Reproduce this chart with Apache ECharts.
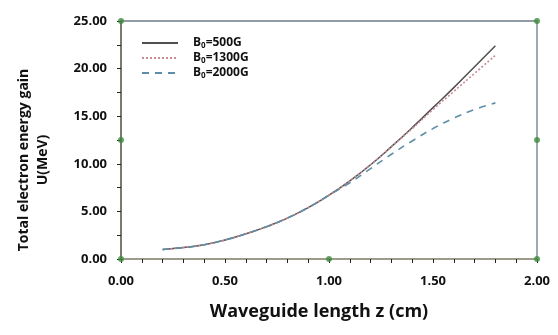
<!DOCTYPE html>
<html><head><meta charset="utf-8">
<script src="https://cdn.jsdelivr.net/npm/echarts@6/dist/echarts.min.js"></script>
<style>html,body{margin:0;padding:0;background:#fff}#c{width:558px;height:335px}</style>
</head><body><div id="c"></div>
<script>
const zValues = [0.2,0.3,0.4,0.5,0.6,0.7,0.8,0.9,1.0,1.1,1.2,1.3,1.4,1.5,1.6,1.7,1.8];
const u500  = [1.0,1.2,1.5,2.0,2.65,3.4,4.3,5.4,6.7,8.2,9.9,11.8,13.8,15.9,18.0,20.2,22.4];
const u1300 = [1.0,1.2,1.5,2.0,2.65,3.4,4.3,5.4,6.7,8.2,9.9,11.8,13.7,15.7,17.6,19.5,21.4];
const u2000 = [1.0,1.2,1.5,2.0,2.65,3.4,4.3,5.4,6.7,8.0,9.5,11.0,12.4,13.7,14.8,15.7,16.4];
const seriesNames = ['B{s|0}=500G','B{s|0}=1300G','B{s|0}=2000G'];
const handles = [[0,0],[1,0],[2,0],[0,25],[2,25],[0,12.5],[2,12.5]];

const pair = (xs, ys) => xs.map((x,i)=>[x, ys[i]]);
const chart = echarts.init(document.getElementById('c'));
const fontF = '"Open Sans", "Liberation Sans", sans-serif';
chart.setOption({
  animation: false,
  grid: {left:121, right:21, top:21, bottom:76, show:true, borderColor:'#6f7c86', borderWidth:1.3, backgroundColor:'transparent'},
  legend: {
    left: 136, top: 32, orient: 'vertical', itemWidth: 36, itemHeight: 12, itemGap: 2,
    data: ['s500','s1300','s2000'],
    itemStyle: {opacity: 0},
    formatter: n => ({s500:seriesNames[0], s1300:seriesNames[1], s2000:seriesNames[2]})[n],
    textStyle: {fontFamily: fontF, fontWeight:'bold', fontSize:12, color:'#111', padding:[0,0,0,10],
      rich: {s:{fontFamily: fontF, fontWeight:'bold', fontSize:8, verticalAlign:'bottom', padding:[6,0,0,0], color:'#111'}}}
  },
  xAxis: [{
    type:'value', min:0, max:2, interval:0.5,
    name:'Waveguide length z (cm)', nameLocation:'middle', nameGap:44,
    nameTextStyle:{fontFamily: fontF, fontWeight:'bold', fontSize:18, color:'#111', padding:[0,20,0,0]},
    axisLine:{show:true, onZero:false, lineStyle:{color:'#a39d82', width:1.5}},
    axisTick:{show:true, inside:false, length:4, lineStyle:{color:'#222'}},
    minorTick:{show:true, splitNumber:5, length:4, lineStyle:{color:'#222'}},
    splitLine:{show:false},
    axisLabel:{formatter:v=>v.toFixed(2), margin:16, fontFamily: fontF, fontWeight:'bold', fontSize:13, color:'#111'}
  }],
  yAxis: [{
    type:'value', min:0, max:25, interval:5,
    name:'Total electron energy gain\nU(MeV)', nameLocation:'middle', nameGap:68, nameRotate:90,
    nameTextStyle:{fontFamily: fontF, fontWeight:'bold', fontSize:14, color:'#111', lineHeight:19, padding:[0,0,0,-40]},
    axisLine:{show:true, onZero:false, lineStyle:{color:'#6e6a55', width:1.5}},
    axisTick:{show:true, length:4, lineStyle:{color:'#222'}},
    minorTick:{show:true, splitNumber:2, length:4, lineStyle:{color:'#222'}},
    splitLine:{show:false},
    axisLabel:{formatter:v=>v.toFixed(2), margin:14, fontFamily: fontF, fontWeight:'bold', fontSize:13, color:'#111'}
  }],
  series: [
    {name:'s500', type:'line', symbol:'none', smooth:true, data:pair(zValues,u500),
     lineStyle:{color:'#505050', width:1.5, type:'solid'}, itemStyle:{color:'#505050'}},
    {name:'s1300', type:'line', symbol:'none', smooth:true, data:pair(zValues,u1300),
     lineStyle:{color:'#c98a92', width:1.6, type:[2,2]}, itemStyle:{color:'#c98a92'}},
    {name:'s2000', type:'line', symbol:'none', smooth:true, data:pair(zValues,u2000),
     lineStyle:{color:'#5f8ea8', width:1.6, type:[7,6]}, itemStyle:{color:'#5f8ea8'}},
    {name:'handles', type:'scatter', symbol:'circle', symbolSize:6, data:handles,
     itemStyle:{color:'#3d8c3d'}, z:10}
  ]
});
</script></body></html>
